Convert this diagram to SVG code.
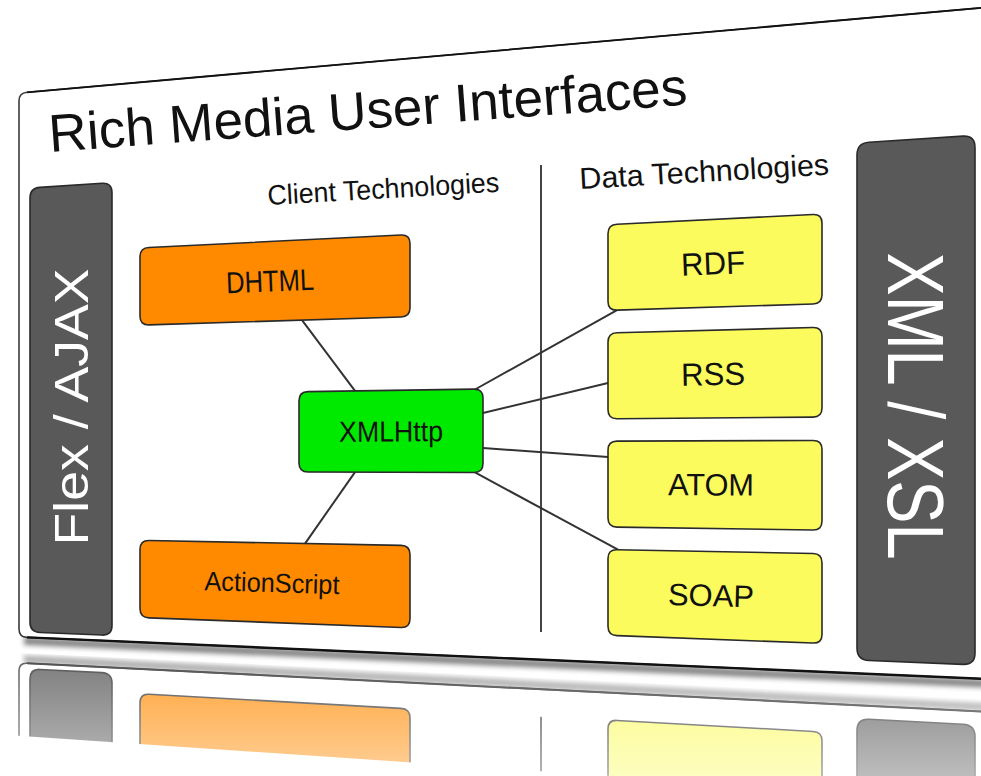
<svg xmlns="http://www.w3.org/2000/svg" xmlns:xlink="http://www.w3.org/1999/xlink" width="981" height="776" viewBox="0 0 981 776">
  <style>
    text { font-family: "Liberation Sans", Arial, sans-serif; fill: #111; }
    .board { fill: #ffffff; stroke: #3a3a3a; stroke-width: 1.6; }
    .bar { fill: #595959; stroke: #2a2a2a; stroke-width: 1.6; }
    .orange { fill: #ff8a00; stroke: #2a2a2a; stroke-width: 1.6; }
    .green { fill: #00ea00; stroke: #2a2a2a; stroke-width: 1.6; }
    .yellow { fill: #fbfb5e; stroke: #2a2a2a; stroke-width: 1.6; }
    .conn { stroke: #333; stroke-width: 2; fill: none; }
    .divider { stroke: #444; stroke-width: 2; fill: none; }
    .bartext { fill: #ffffff; }
    .label { text-anchor: middle; }
  </style>
  <defs>
    <filter id="blur" x="-5%" y="-50%" width="110%" height="200%">
      <feGaussianBlur stdDeviation="2.5"/>
    </filter>
    <linearGradient id="fade" gradientUnits="userSpaceOnUse" x1="0" y1="655" x2="0" y2="776">
      <stop offset="0" stop-color="#fff" stop-opacity="0.8"/>
      <stop offset="1" stop-color="#fff" stop-opacity="0.4"/>
    </linearGradient>
    <mask id="reflMask" maskUnits="userSpaceOnUse" x="0" y="0" width="981" height="776">
      <rect x="0" y="600" width="981" height="176" fill="url(#fade)"/>
    </mask>
    <clipPath id="reflClip">
      <polygon points="0,652 995,700 995,802 0,734.6"/>
    </clipPath>
  </defs>

  <!-- shadow under board -->
  <path d="M24,641 L995,684" stroke="#555" stroke-width="8" fill="none" opacity="0.7" filter="url(#blur)"/>

  <!-- board -->
  <g id="board">
    <path id="board-shape" class="board" d="M19,101 Q19,93 27,92.3 L995,6.6 L995,679.4 L27,637.35 Q19,637 19,629 Z"/>
    <path d="M27,92.3 L995,6.6" stroke="#111" stroke-width="1.8" fill="none"/>
    <path d="M27,637.35 L995,679.4" stroke="#111" stroke-width="2.4" fill="none"/>
    <text x="50" y="152" font-size="53" textLength="640" lengthAdjust="spacingAndGlyphs" transform="rotate(-4.25 50 152)">Rich Media User Interfaces</text>
    <text x="268" y="205" font-size="28" textLength="232" lengthAdjust="spacingAndGlyphs" transform="rotate(-3.3 268 205)">Client Technologies</text>
    <text x="580" y="189" font-size="30" textLength="250" lengthAdjust="spacingAndGlyphs" transform="rotate(-3.3 580 189)">Data Technologies</text>
    <path id="divider-line" class="divider" d="M541,165 L541,632"/>
  </g>

  <!-- connectors -->
  <g id="connectors">
    <path class="conn" d="M302,320.1 L355,390.9"/>
    <path class="conn" d="M355,472.1 L305,543.6"/>
    <path class="conn" d="M475,389.5 L617,310.2"/>
    <path class="conn" d="M483,413 L608,383"/>
    <path class="conn" d="M483,448 L608,457"/>
    <path class="conn" d="M475,472.4 L618,549.7"/>
  </g>

  <!-- nodes -->
  <g id="flex-ajax">
    <path id="bar-left-shape" class="bar" d="M30,198 Q30,188 40,187.34 L102,183.26 Q112,182.6 112,192.6 L112,625.5 Q112,635.5 102,635.07 L40,632.43 Q30,632 30,622 Z"/>
    <text class="bartext label" x="0" y="0" font-size="49" textLength="277" lengthAdjust="spacingAndGlyphs" transform="translate(88 407) rotate(-90)">Flex / AJAX</text>
  </g>

  <g id="xml-xsl">
    <path id="bar-right-shape" class="bar" d="M857,155 Q857,143 869,142.23 L963,136.17 Q975,135.4 975,147.4 L975,652.9 Q975,664.9 963,664.4 L869,660.5 Q857,660 857,648 Z"/>
    <text class="bartext label" x="0" y="0" font-size="80" textLength="307" lengthAdjust="spacingAndGlyphs" transform="translate(888 406) rotate(90)">XML / XSL</text>
  </g>

  <g id="dhtml">
    <path class="orange" d="M140,257 Q140,248 149,247.55 L401,234.95 Q410,234.5 410,243.5 L410,307.7 Q410,316.7 401,316.98 L149,324.92 Q140,325.2 140,316.2 Z"/>
    <text class="label" x="270" y="291.5" font-size="30" textLength="88" lengthAdjust="spacingAndGlyphs" transform="rotate(-2.3 270 281)">DHTML</text>
  </g>

  <g id="actionscript">
    <path id="as-shape" class="orange" d="M140,549.3 Q140,540.3 149,540.48 L401,545.42 Q410,545.6 410,554.6 L410,618.8 Q410,627.8 401,627.46 L149,617.84 Q140,617.5 140,608.5 Z"/>
    <text class="label" x="272" y="592.2" font-size="27" textLength="135" lengthAdjust="spacingAndGlyphs" transform="rotate(1.7 272 582.7)">ActionScript</text>
  </g>

  <g id="xmlhttp">
    <path class="green" d="M299,400.8 Q299,391.8 308,391.66 L474,389.14 Q483,389 483,398 L483,463.5 Q483,472.5 474,472.47 L308,471.93 Q299,471.9 299,462.9 Z"/>
    <text class="label" x="391" y="441.5" font-size="29" textLength="104" lengthAdjust="spacingAndGlyphs" transform="rotate(-0.35 391 431)">XMLHttp</text>
  </g>

  <g id="rdf">
    <path class="yellow" d="M608,233.7 Q608,224.7 617,224.25 L813,214.45 Q822,214 822,223 L822,294.7 Q822,303.7 813,303.98 L617,310.12 Q608,310.4 608,301.4 Z"/>
    <text class="label" x="713" y="274.5" font-size="32" textLength="64" lengthAdjust="spacingAndGlyphs" transform="rotate(-2.3 713 263.3)">RDF</text>
  </g>

  <g id="rss">
    <path class="yellow" d="M608,342 Q608,333 617,332.76 L813,327.54 Q822,327.3 822,336.3 L822,408 Q822,417 813,417.08 L617,418.72 Q608,418.8 608,409.8 Z"/>
    <text class="label" x="713" y="385.2" font-size="32" textLength="64" lengthAdjust="spacingAndGlyphs" transform="rotate(-1 713 374)">RSS</text>
  </g>

  <g id="atom">
    <path class="yellow" d="M608,450.2 Q608,441.2 617,441.17 L813,440.43 Q822,440.4 822,449.4 L822,521.1 Q822,530.1 813,529.97 L617,527.13 Q608,527 608,518 Z"/>
    <text class="label" x="711" y="495.5" font-size="31" textLength="86" lengthAdjust="spacingAndGlyphs" transform="rotate(0.3 711 484.7)">ATOM</text>
  </g>

  <g id="soap">
    <path id="soap-shape" class="yellow" d="M608,558.5 Q608,549.5 617,549.68 L813,553.52 Q822,553.7 822,562.7 L822,634.4 Q822,643.4 813,643.06 L617,635.64 Q608,635.3 608,626.3 Z"/>
    <text class="label" x="711" y="606.2" font-size="31" textLength="86" lengthAdjust="spacingAndGlyphs" transform="rotate(1.6 711 595.4)">SOAP</text>
  </g>

  <!-- reflection -->
  <g id="reflection" clip-path="url(#reflClip)" mask="url(#reflMask)">
    <g transform="matrix(1 0.093933 0 -1 0 1298.12)">
      <path d="M24,641 L995,684" stroke="#555" stroke-width="8" fill="none" opacity="0.6" filter="url(#blur)"/>
      <use href="#board-shape" xlink:href="#board-shape"/>
      <path d="M27,637.35 L995,679.4" stroke="#222" stroke-width="2" fill="none"/>
      <use href="#divider-line" xlink:href="#divider-line"/>
      <use href="#bar-left-shape" xlink:href="#bar-left-shape"/>
      <use href="#bar-right-shape" xlink:href="#bar-right-shape"/>
      <use href="#as-shape" xlink:href="#as-shape"/>
      <use href="#soap-shape" xlink:href="#soap-shape"/>
    </g>
  </g>
</svg>
